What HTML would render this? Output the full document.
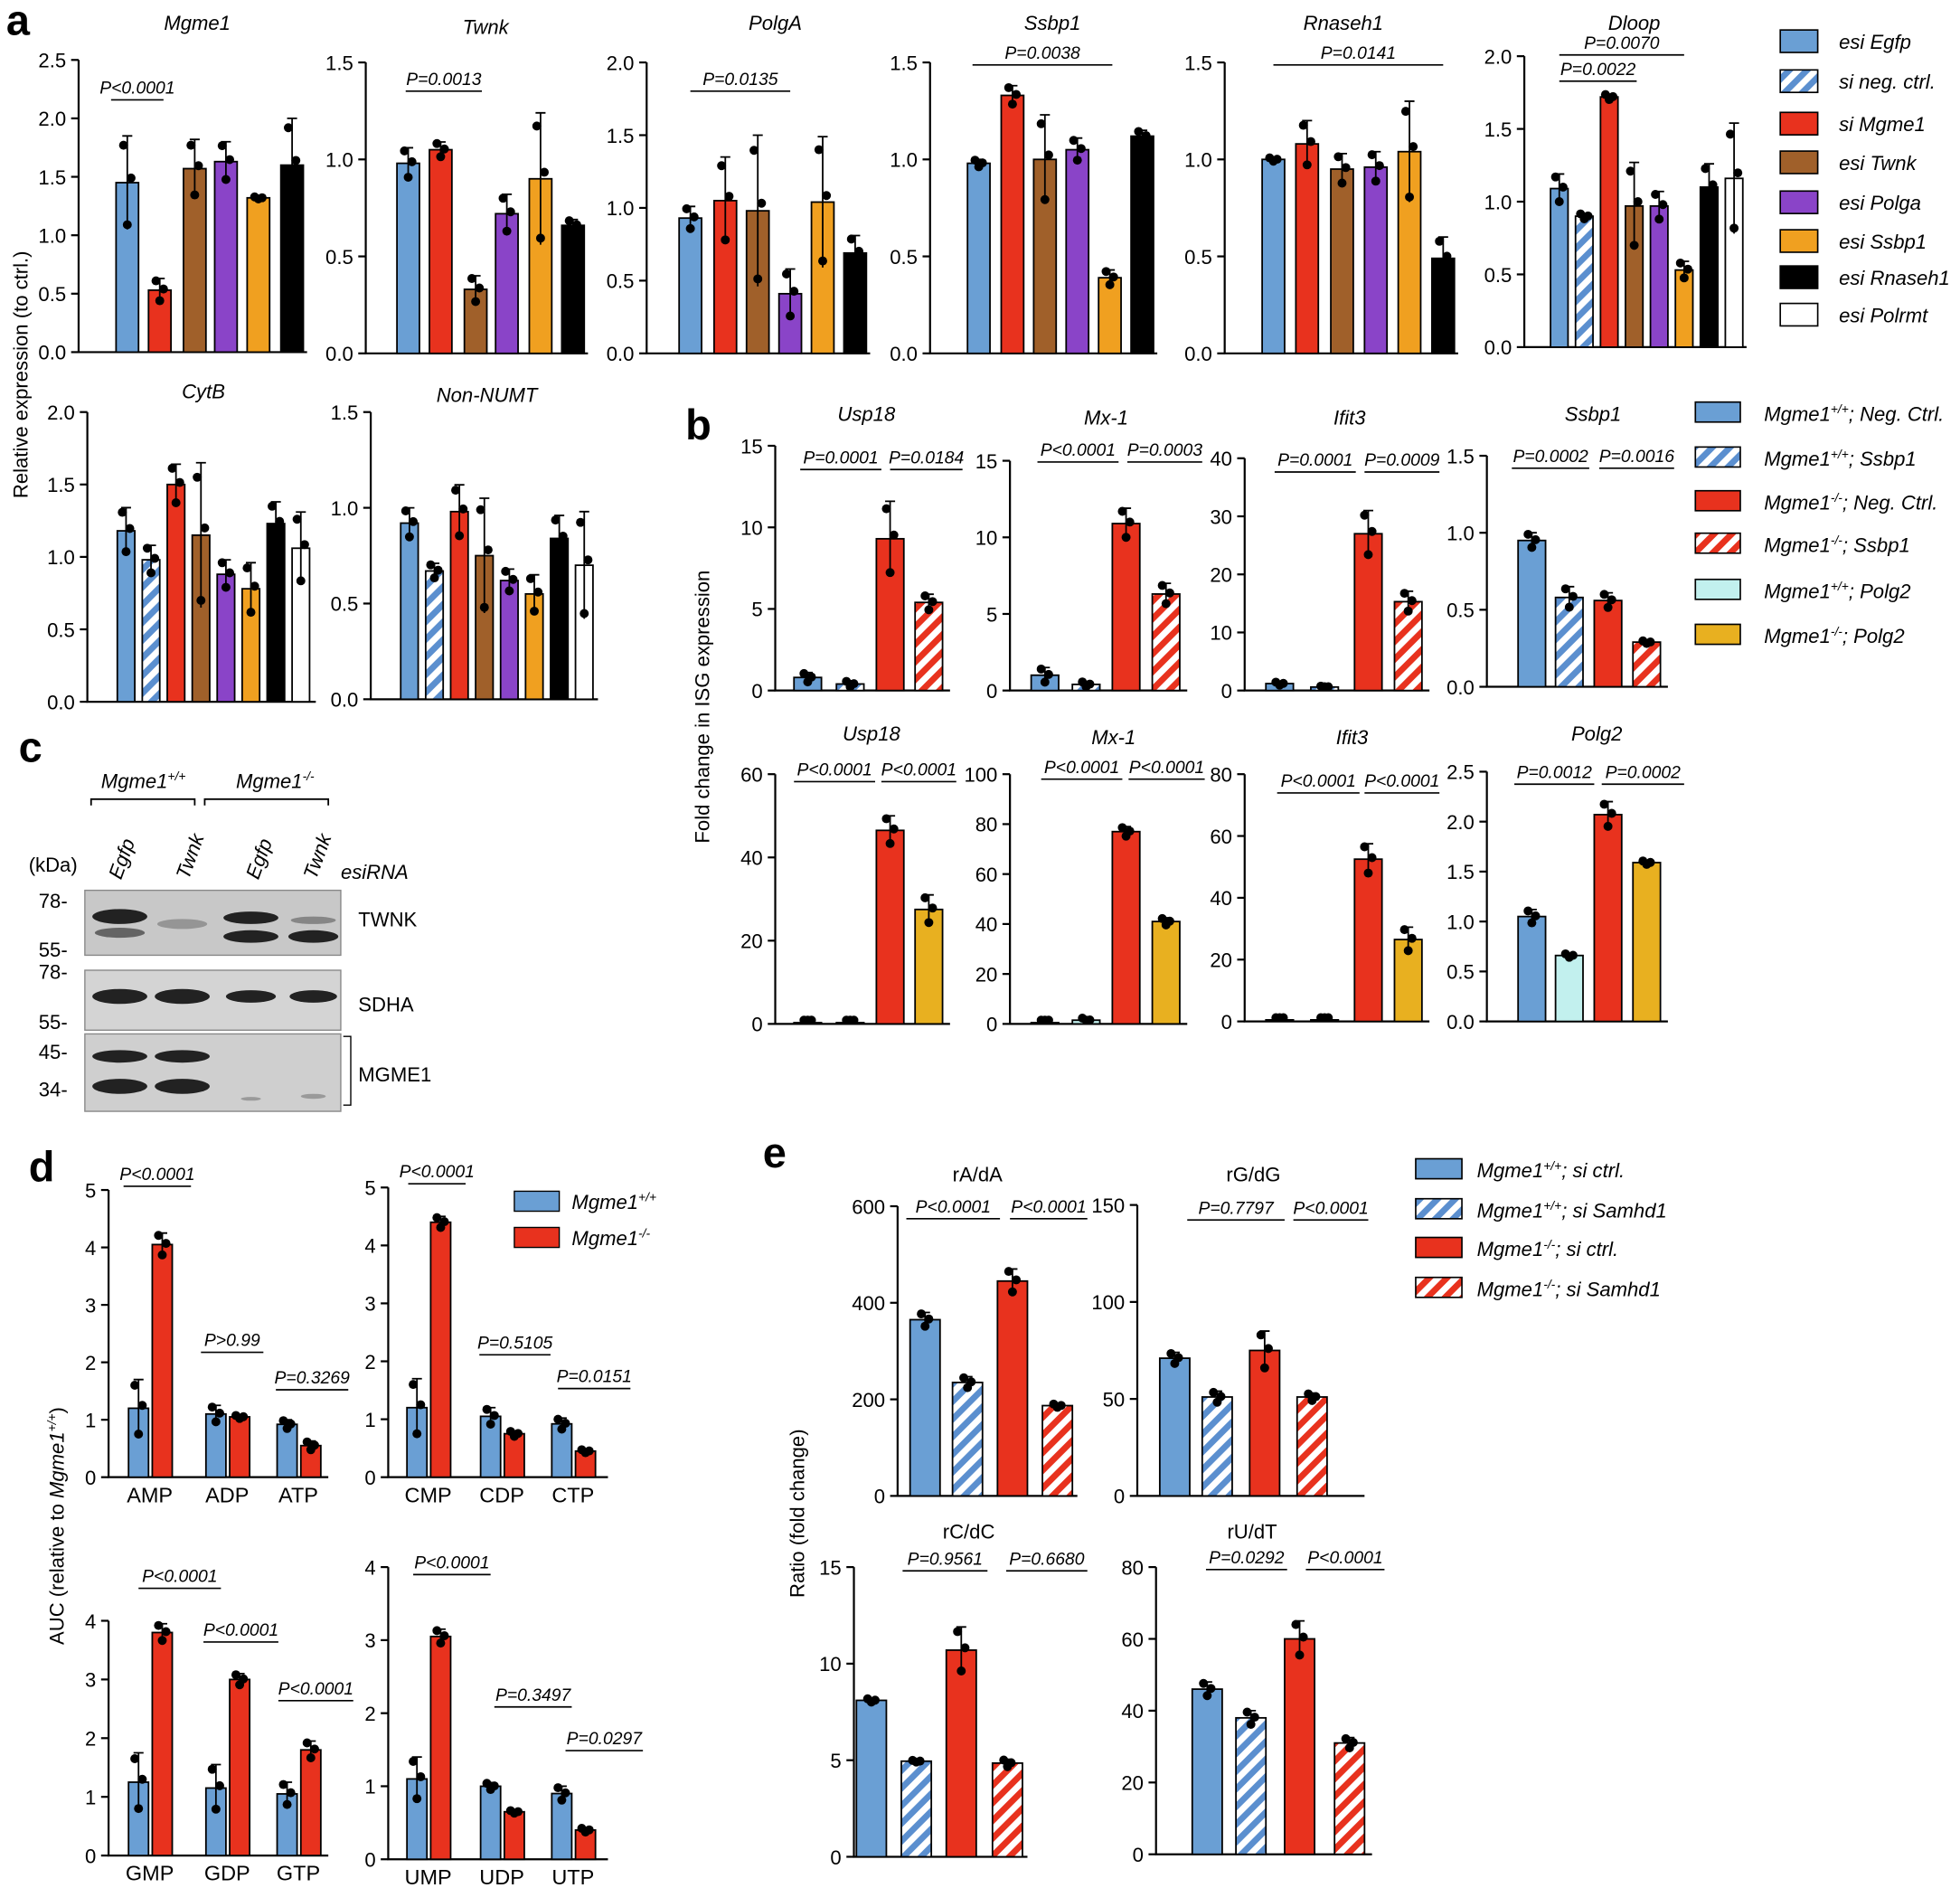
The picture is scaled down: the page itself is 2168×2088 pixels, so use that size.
<!DOCTYPE html><html><head><meta charset="utf-8"><style>html,body{margin:0;padding:0;background:#fff}svg{display:block}text{font-family:"Liberation Sans",sans-serif}</style></head><body>
<svg id="s" width="2168" height="2088" viewBox="0 0 1568 1512" xmlns="http://www.w3.org/2000/svg">
<defs>
<pattern id="hb" patternUnits="userSpaceOnUse" width="10" height="10" patternTransform="rotate(45)"><rect width="10" height="10" fill="#fff"/><rect width="5" height="10" fill="#5b8fcf"/></pattern>
<pattern id="hr" patternUnits="userSpaceOnUse" width="10" height="10" patternTransform="rotate(45)"><rect width="10" height="10" fill="#fff"/><rect width="5" height="10" fill="#e8321e"/></pattern>
</defs>
<g id="g"></g>
<text x="4" y="28" font-size="34" font-weight="bold">a</text>
<text x="548" y="352" font-size="34" font-weight="bold">b</text>
<text x="14" y="610" font-size="34" font-weight="bold">c</text>
<text x="22" y="946" font-size="34" font-weight="bold">d</text>
<text x="610" y="935" font-size="34" font-weight="bold">e</text>
<text transform="translate(21,300) rotate(-90)" text-anchor="middle" font-size="16">Relative expression (to ctrl.)</text>
<text transform="translate(567,566) rotate(-90)" text-anchor="middle" font-size="16">Fold change in ISG expression</text>
<text transform="translate(50,1222) rotate(-90)" text-anchor="middle" font-size="16">AUC (relative to <tspan font-style="italic">Mgme1<tspan font-size="10" dy="-6">+/+</tspan></tspan><tspan dy="6">)</tspan></text>
<text transform="translate(643,1212) rotate(-90)" text-anchor="middle" font-size="16">Ratio (fold change)</text>
<!-- panel c -->
<g font-size="16">
<text x="80" y="631" font-style="italic">Mgme1<tspan font-size="10" dy="-6">+/+</tspan></text>
<text x="188" y="631" font-style="italic">Mgme1<tspan font-size="10" dy="-6">-/-</tspan></text>
<path d="M72 645V640H155V645M163 645V640H262V645" fill="none" stroke="#000" stroke-width="1.3"/>
<text transform="translate(96,705) rotate(-70)" font-style="italic">Egfp</text>
<text transform="translate(150,705) rotate(-70)" font-style="italic">Twnk</text>
<text transform="translate(206,705) rotate(-70)" font-style="italic">Egfp</text>
<text transform="translate(252,705) rotate(-70)" font-style="italic">Twnk</text>
<text x="272" y="704" font-style="italic">esiRNA</text>
<text x="22" y="698">(kDa)</text>
<text x="30" y="727">78-</text><text x="30" y="766">55-</text>
<text x="30" y="784">78-</text><text x="30" y="824">55-</text>
<text x="30" y="848">45-</text><text x="30" y="878">34-</text>
<rect x="67" y="713" width="205" height="52" fill="#c8c8c8" stroke="#888"/>
<rect x="67" y="777" width="205" height="48" fill="#d4d4d4" stroke="#888"/>
<rect x="67" y="828" width="205" height="62" fill="#cfcfcf" stroke="#888"/>
<g fill="#222">
<ellipse cx="95" cy="734" rx="22" ry="6"/><ellipse cx="95" cy="747" rx="20" ry="4" opacity=".6"/>
<ellipse cx="145" cy="740" rx="20" ry="4" opacity=".3"/>
<ellipse cx="200" cy="735" rx="22" ry="5"/><ellipse cx="200" cy="750" rx="22" ry="5"/>
<ellipse cx="250" cy="750" rx="20" ry="5"/><ellipse cx="250" cy="737" rx="18" ry="3" opacity=".4"/>
<ellipse cx="95" cy="798" rx="22" ry="6"/><ellipse cx="145" cy="798" rx="22" ry="6"/><ellipse cx="200" cy="798" rx="20" ry="5"/><ellipse cx="250" cy="798" rx="19" ry="5"/>
<ellipse cx="95" cy="846" rx="22" ry="5"/><ellipse cx="145" cy="846" rx="22" ry="5"/>
<ellipse cx="95" cy="870" rx="22" ry="6"/><ellipse cx="145" cy="870" rx="22" ry="6"/>
<ellipse cx="200" cy="880" rx="8" ry="1.5" opacity=".3"/><ellipse cx="250" cy="878" rx="10" ry="2" opacity=".3"/>
</g>
<text x="286" y="742">TWNK</text><text x="286" y="810">SDHA</text><text x="286" y="866">MGME1</text>
<path d="M274 830H280V885H274" fill="none" stroke="#000"/>
</g>
</svg>
<script>
const g=document.getElementById('g');let h='';
const C={b:'#6a9fd4',r:'#e8321e',n:'#a0602a',p:'#8a44c8',o:'#f0a020',k:'#000',w:'#fff',hb:'url(#hb)',hr:'url(#hr)',c:'#c2f0ee',y:'#e8b020'};
function panel(ax,yt,y0,max,ticks,xe,title,tx,ty,bars,w,ps,tf){
 const Y=v=>y0-v/max*(y0-yt);
 h+=`<text x="${tx}" y="${ty}" font-size="16" text-anchor="middle" ${tf?'':'font-style="italic"'}>${title}</text>`;
 h+=`<path d="M${ax} ${yt}V${y0}H${xe}" fill="none" stroke="#000" stroke-width="1.6"/>`;
 ticks.forEach((t,i)=>{const v=max*i/(ticks.length-1),y=Y(v);h+=`<path d="M${ax-6} ${y}H${ax}" stroke="#000" stroke-width="1.6"/><text x="${ax-10}" y="${y+6}" font-size="16" text-anchor="end">${t}</text>`;});
 bars.forEach(([cx,v,e,c])=>{const y=Y(v),ye=Y(v+e),yl=Y(Math.max(v-e,0));
  h+=`<rect x="${cx-w/2}" y="${y}" width="${w}" height="${y0-y}" fill="${C[c]}" stroke="#000" stroke-width="1.3"/>`;
  if(e>0)h+=`<path d="M${cx} ${yl}V${ye}M${cx-4} ${ye}H${cx+4}" stroke="#000" stroke-width="1.3"/>`;
  const ds=[v+e*0.8,v-e*0.9,v+e*0.1];ds.forEach((d,i)=>{h+=`<circle cx="${cx+(i-1)*3}" cy="${Math.min(Y(Math.max(d,0)),y0-3)}" r="3.6" fill="#000"/>`});
 });
 (ps||[]).forEach(([x1,x2,y,t])=>{h+=`<path d="M${x1} ${y}H${x2}" stroke="#000" stroke-width="1.2"/><text x="${(x1+x2)/2}" y="${y-5}" font-size="14" font-style="italic" text-anchor="middle">${t}</text>`;});
}
const A=['b','r','n','p','o','k'];
function mk(cs,vs,es,cl){return cs.map((c,i)=>[c,vs[i],es[i],cl[i]]);}
// panel a
panel(62,48,282,2.5,['0.0','0.5','1.0','1.5','2.0','2.5'],245,'Mgme1',157,24,mk([101,127,155,180,206,233],[1.45,0.53,1.57,1.63,1.32,1.6],[0.4,0.1,0.25,0.17,0.01,0.4],A),18,[[88,130,80,'P&lt;0.0001']]);
panel(292,50,283,1.5,['0.0','0.5','1.0','1.5'],470,'Twnk',388,27,mk([326,352,380,405,432,458],[0.98,1.05,0.33,0.72,0.9,0.66],[0.08,0.04,0.07,0.1,0.34,0.03],A),18,[[324,385,73,'P=0.0013']]);
panel(517,50,283,2.0,['0.0','0.5','1.0','1.5','2.0'],696,'PolgA',620,24,mk([552,580,606,632,658,684],[0.93,1.05,0.98,0.41,1.04,0.69],[0.08,0.3,0.52,0.17,0.45,0.12],A),18,[[552,632,73,'P=0.0135']]);
panel(744,50,283,1.5,['0.0','0.5','1.0','1.5'],926,'Ssbp1',842,24,mk([783,810,836,862,888,914],[0.98,1.33,1.0,1.05,0.39,1.12],[0.02,0.05,0.23,0.06,0.04,0.03],A),18,[[778,890,52,'P=0.0038']]);
panel(980,50,283,1.5,['0.0','0.5','1.0','1.5'],1167,'Rnaseh1',1075,24,mk([1019,1046,1074,1101,1128,1155],[1.0,1.08,0.95,0.96,1.04,0.49],[0.01,0.12,0.08,0.08,0.26,0.11],A),18,[[1019,1155,52,'P=0.0141']]);
const A8=['b','hb','r','n','p','o','k','w'];
panel(1220,45,278,2.0,['0.0','0.5','1.0','1.5','2.0'],1398,'Dloop',1308,24,mk([1248,1268,1288,1308,1328,1348,1368,1388],[1.09,0.9,1.72,0.97,0.97,0.53,1.1,1.16],[0.1,0.02,0.02,0.3,0.1,0.06,0.16,0.38],A8),14,[[1248,1348,44,'P=0.0070'],[1248,1310,65,'P=0.0022']]);
panel(69,330,562,2.0,['0.0','0.5','1.0','1.5','2.0'],252,'CytB',162,319,mk([100,120,140,160,180,200,220,240],[1.18,0.98,1.5,1.15,0.88,0.78,1.23,1.06],[0.16,0.1,0.14,0.5,0.1,0.18,0.15,0.25],A8),14);
panel(296,330,560,1.5,['0.0','0.5','1.0','1.5'],478,'Non-NUMT',389,322,mk([327,347,367,387,407,427,447,467],[0.92,0.67,0.98,0.75,0.62,0.55,0.84,0.7],[0.08,0.04,0.14,0.3,0.06,0.1,0.12,0.28],A8),14);
// legend a
const LA=[['b','esi Egfp'],['hb','si neg. ctrl.'],['r','si Mgme1'],['n','esi Twnk'],['p','esi Polga'],['o','esi Ssbp1'],['k','esi Rnaseh1'],['w','esi Polrmt']];
LA.forEach(([c,t],i)=>{const y=[33,65,99,130,162,193,222,252][i];h+=`<rect x="1425" y="${y-9}" width="30" height="18" fill="${C[c]}" stroke="#000" stroke-width="1.2"/><text x="1472" y="${y+6}" font-size="16" font-style="italic">${t}</text>`;});
// panel b
const B1=['b','hb','r','hr'],B2=['b','c','r','y'];
panel(620,357,553,15,['0','5','10','15'],760,'Usp18',693,337,mk([646,680,712,743],[0.8,0.4,9.3,5.4],[0.3,0.2,2.3,0.5],B1),22,[[640,705,376,'P=0.0001'],[712,770,376,'P=0.0184']]);
panel(808,369,553,15,['0','5','10','15'],950,'Mx-1',885,340,mk([836,869,901,933],[1.0,0.4,10.9,6.3],[0.5,0.2,1.0,0.7],B1),22,[[830,895,370,'P&lt;0.0001'],[902,962,370,'P=0.0003']]);
panel(996,367,553,40,['0','10','20','30','40'],1144,'Ifit3',1080,340,mk([1024,1060,1095,1127],[1.2,0.6,27,15.3],[0.3,0.2,4,1.8],B1),22,[[1020,1085,378,'P=0.0001'],[1092,1152,378,'P=0.0009']]);
panel(1190,365,550,1.5,['0.0','0.5','1.0','1.5'],1335,'Ssbp1',1275,337,mk([1226,1256,1287,1318],[0.95,0.58,0.56,0.29],[0.05,0.07,0.05,0.01],B1),22,[[1210,1272,375,'P=0.0002'],[1280,1340,375,'P=0.0016']]);
panel(620,620,820,60,['0','20','40','60'],760,'Usp18',697,593,mk([646,680,712,743],[0.3,0.3,46.5,27.5],[0.1,0.1,3.5,3.5],B2),22,[[635,700,626,'P&lt;0.0001'],[705,765,626,'P&lt;0.0001']]);
panel(808,620,820,100,['0','20','40','60','80','100'],950,'Mx-1',891,596,mk([836,869,901,933],[0.5,1.5,77,41],[0.2,1,2,1.5],B2),22,[[833,898,624,'P&lt;0.0001'],[903,964,624,'P&lt;0.0001']]);
panel(996,620,818,80,['0','20','40','60','80'],1144,'Ifit3',1082,596,mk([1024,1060,1095,1127],[0.5,0.5,52.5,26.5],[0.2,0.2,5,4],B2),22,[[1022,1088,635,'P&lt;0.0001'],[1092,1152,635,'P&lt;0.0001']]);
panel(1190,618,818,2.5,['0.0','0.5','1.0','1.5','2.0','2.5'],1335,'Polg2',1278,593,mk([1226,1256,1287,1318],[1.05,0.66,2.07,1.59],[0.07,0.02,0.13,0.02],B2),22,[[1212,1276,628,'P=0.0012'],[1282,1348,628,'P=0.0002']]);
const LB=[['b','Mgme1<tspan font-size="10" dy="-6">+/+</tspan><tspan dy="6">; Neg. Ctrl.</tspan>'],['hb','Mgme1<tspan font-size="10" dy="-6">+/+</tspan><tspan dy="6">; Ssbp1</tspan>'],['r','Mgme1<tspan font-size="10" dy="-6">-/-</tspan><tspan dy="6">; Neg. Ctrl.</tspan>'],['hr','Mgme1<tspan font-size="10" dy="-6">-/-</tspan><tspan dy="6">; Ssbp1</tspan>'],['c','Mgme1<tspan font-size="10" dy="-6">+/+</tspan><tspan dy="6">; Polg2</tspan>'],['y','Mgme1<tspan font-size="10" dy="-6">-/-</tspan><tspan dy="6">; Polg2</tspan>']];
LB.forEach(([c,t],i)=>{const y=[330,366,401,435,472,508][i];h+=`<rect x="1357" y="${y-8}" width="36" height="16" fill="${C[c]}" stroke="#000" stroke-width="1.2"/><text x="1412" y="${y+7}" font-size="16" font-style="italic">${t}</text>`;});
// panel d
function dp(ax,yt,y0,max,ticks,xe,gx,vals,errs,labs,ps){
 const bars=[];gx.forEach((x,i)=>{bars.push([x,vals[i][0],errs[i][0],'b']);bars.push([x+19,vals[i][1],errs[i][1],'r']);});
 panel(ax,yt,y0,max,ticks,xe,'',0,0,bars,16,ps);
 labs.forEach((l,i)=>{h+=`<text x="${gx[i]+9}" y="${y0+20}" font-size="17" text-anchor="middle">${l}</text>`});
}
dp(86,953,1183,5,['0','1','2','3','4','5'],262,[110,172,229],[[1.2,4.05],[1.1,1.05],[0.92,0.55]],[[0.5,0.2],[0.15,0.03],[0.08,0.08]],['AMP','ADP','ATP'],[[98,152,950,'P&lt;0.0001'],[160,210,1083,'P&gt;0.99'],[220,278,1113,'P=0.3269']]);
dp(310,951,1183,5,['0','1','2','3','4','5'],486,[333,392,449],[[1.2,4.4],[1.05,0.75],[0.92,0.45]],[[0.5,0.1],[0.15,0.05],[0.1,0.03]],['CMP','CDP','CTP'],[[326,372,948,'P&lt;0.0001'],[383,440,1085,'P=0.5105'],[446,504,1112,'P=0.0151']]);
dp(86,1298,1486,4,['0','1','2','3','4'],262,[110,172,229],[[1.25,3.8],[1.15,3.0],[1.05,1.8]],[[0.5,0.15],[0.4,0.1],[0.2,0.15]],['GMP','GDP','GTP'],[[110,176,1272,'P&lt;0.0001'],[162,222,1315,'P&lt;0.0001'],[222,282,1362,'P&lt;0.0001']]);
dp(310,1255,1489,4,['0','1','2','3','4'],486,[333,392,449],[[1.1,3.05],[1.0,0.65],[0.9,0.4]],[[0.3,0.1],[0.05,0.02],[0.1,0.03]],['UMP','UDP','UTP'],[[330,392,1261,'P&lt;0.0001'],[395,457,1367,'P=0.3497'],[452,514,1402,'P=0.0297']]);
h+=`<rect x="411" y="954" width="36" height="16" fill="${C.b}" stroke="#000"/><text x="457" y="968" font-size="16" font-style="italic">Mgme1<tspan font-size="10" dy="-6">+/+</tspan></text>`;
h+=`<rect x="411" y="983" width="36" height="16" fill="${C.r}" stroke="#000"/><text x="457" y="997" font-size="16" font-style="italic">Mgme1<tspan font-size="10" dy="-6">-/-</tspan></text>`;
// panel e
panel(718,966,1198,600,['0','200','400','600'],862,'rA/dA',782,946,mk([740,774,810,846],[365,235,445,187],[15,12,25,4],B1),24,[[725,800,976,'P&lt;0.0001'],[808,870,976,'P&lt;0.0001']],1);
panel(910,965,1198,150,['0','50','100','150'],1092,'rG/dG',1003,946,mk([940,974,1012,1050],[71,51,75,51],[3,3,10,2],B1),24,[[950,1028,977,'P=0.7797'],[1035,1095,977,'P&lt;0.0001']],1);
panel(683,1255,1487,15,['0','5','10','15'],822,'rC/dC',775,1232,mk([697,733,769,806],[8.1,4.95,10.7,4.85],[0.1,0.05,1.2,0.2],B1),24,[[722,790,1258,'P=0.9561'],[805,870,1258,'P=0.6680']],1);
panel(925,1255,1485,80,['0','20','40','60','80'],1098,'rU/dT',1002,1232,mk([966,1001,1040,1080],[46,38,60,31],[2,2,5,1.5],B1),24,[[965,1030,1257,'P=0.0292'],[1045,1108,1257,'P&lt;0.0001']],1);
const LE=[['b','Mgme1<tspan font-size="10" dy="-6">+/+</tspan><tspan dy="6">; si ctrl.</tspan>'],['hb','Mgme1<tspan font-size="10" dy="-6">+/+</tspan><tspan dy="6">; si Samhd1</tspan>'],['r','Mgme1<tspan font-size="10" dy="-6">-/-</tspan><tspan dy="6">; si ctrl.</tspan>'],['hr','Mgme1<tspan font-size="10" dy="-6">-/-</tspan><tspan dy="6">; si Samhd1</tspan>']];
LE.forEach(([c,t],i)=>{const y=[936,968,999,1031][i];h+=`<rect x="1133" y="${y-8}" width="37" height="16" fill="${C[c]}" stroke="#000" stroke-width="1.2"/><text x="1182" y="${y+7}" font-size="16" font-style="italic">${t}</text>`;});
g.innerHTML=h;
</script>
</body></html>
